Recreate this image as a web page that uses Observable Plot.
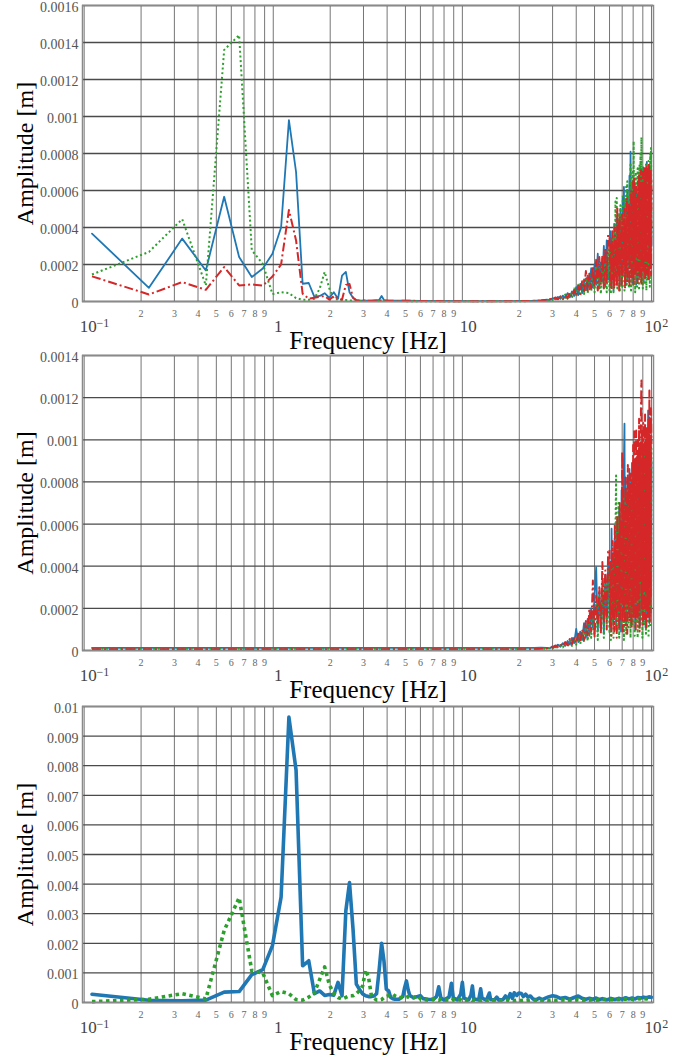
<!DOCTYPE html>
<html><head><meta charset="utf-8">
<script src="https://cdn.jsdelivr.net/npm/d3@7"></script>
<script src="https://cdn.jsdelivr.net/npm/@observablehq/plot@0.6"></script>
<style>
body{margin:0;background:#fff;}
#chart svg{display:block;overflow:visible;font-family:"Liberation Serif","Times New Roman",serif !important;}
#chart svg text{font-family:"Liberation Serif","Times New Roman",serif !important;}
</style></head><body><div id="chart"></div>
<script>
// ---------- axis ticks / labels ----------
const minorTicks = [0.2,0.3,0.4,0.5,0.6,0.7,0.8,0.9,2,3,4,5,6,7,8,9,20,30,40,50,60,70,80,90];
const minorLabels = ["2","3","4","5","6","7","8","9","2","3","4","5","6","7","8","9","2","3","4","5","6","7","8","9"];
const decadeTicks = [0.1,1,10,100];
const decadeBase = ["10","1","10","10"];
const decadeExp = ["\u22121","","","2"];
const yTicks1 = [0,0.0002,0.0004,0.0006,0.0008,0.001,0.0012,0.0014,0.0016];
const yTicks2 = [0,0.0002,0.0004,0.0006,0.0008,0.001,0.0012,0.0014];
const yTicks3 = [0,0.001,0.002,0.003,0.004,0.005,0.006,0.007,0.008,0.009,0.01];

// ---------- panel 1 (amplitudes in micrometres) ----------
const p1FreqLow = [0.11,0.22,0.33,0.44,0.55,0.66,0.77,0.88,0.99,1.1,1.21,1.32,1.43,1.54,1.65,1.76,1.87,1.98,2.09,2.2,2.31,2.42,2.53,2.64,2.75,2.86,2.97,3.3,3.63,3.74,3.85,4.07,4.5,5,6,7,8,10,12,15,18,20,22,24,26];
const p1BlueLow  = [367,74,340,168,566,240,132,178,258,400,980,700,96,100,25,30,45,20,50,15,140,160,50,20,8,5,5,5,8,30,8,5,4,5,3,3,3,2,2,2,2,3,3,4,6];
const p1RedLow   = [136,38,105,63,186,87,92,86,135,200,495,330,42,15,20,25,30,10,30,15,10,90,95,20,5,5,5,4,4,6,4,4,3,4,3,3,2,2,2,2,2,3,3,4,5];
const p1GreenLow = [146,268,445,87,1360,1440,277,204,40,50,45,18,10,10,15,70,160,70,15,10,8,8,5,5,5,3,4,3,3,3,3,3,3,2,2,2,2,2,2,1,1,2,2,3,5];

const hfFreqA = [28,29,30,31,32,33,34,35,36,37,38,39,40,41,42,43,44,45,46,47,48,49,50,51,52,53,54,55,56,57,58,59];
const hfFreqB = [60,60.5,61,61.5,62,62.5,63,63.5,64,64.5,
                 65,65.5,66,66.5,67,67.5,68,68.5,69,69.5,
                 70,70.5,71,71.5,72,72.5,73,73.5,74,74.5,
                 75,75.5,76,76.5,77,77.5,78,78.5,79,79.5,
                 80,80.5,81,81.5,82,82.5,83,83.5,84,84.5,
                 85,85.5,86,86.5,87,87.5,88,88.5,89,89.5,
                 90,90.5,91,91.5,92,92.5,93,93.5,94,94.5,
                 95,95.5,96,96.5,97,97.5,98,98.5,99,99.5,
                 100];

const p1BlueA  = [10,8,18,12,25,14,32,20,45,22,55,30,78,35,95,45,120,60,140,65,180,75,200,90,258,70,210,110,300,80,330,120];
const p1RedA   = [8,14,10,22,12,28,15,35,18,48,25,62,30,85,40,110,55,165,60,150,70,190,80,225,60,240,90,250,70,290,100,360];
const p1GreenA = [5,12,8,18,10,25,12,38,15,50,20,70,25,90,30,100,40,130,45,150,55,170,50,190,60,200,40,230,70,250,50,280];

const p1RedB = [350,90,310,60,380,120,300,70,400,140,
                330,80,510,150,420,60,460,180,380,90,
                470,130,440,200,500,70,420,160,560,110,
                480,220,530,80,520,190,600,120,560,250,
                650,90,670,200,580,140,620,260,560,100,
                650,230,690,130,600,280,710,90,640,250,
                700,160,620,300,720,120,680,240,740,150,
                700,320,730,110,744,260,690,180,720,140,
                660];
const p1BlueB = [120,380,90,340,150,300,60,420,140,330,
                 200,460,110,380,170,440,90,500,210,420,
                 130,560,240,620,150,480,90,540,260,600,
                 120,520,300,680,180,810,220,560,100,640,
                 330,520,150,600,260,540,90,620,340,580,
                 200,640,120,600,380,680,150,560,280,650,
                 200,725,110,600,340,560,180,700,260,755,
                 140,620,300,580,120,640,350,600,200,700,
                 300];
const p1GreenB = [60,300,40,280,120,350,50,400,90,540,
                  130,560,70,420,200,480,50,520,150,460,
                  80,580,220,500,60,560,180,620,90,650,
                  250,540,70,600,140,740,60,620,200,700,
                  90,866,170,640,50,700,230,600,80,720,
                  160,660,60,740,250,800,100,888,180,640,
                  70,720,220,600,90,680,160,740,60,620,
                  200,700,120,760,240,660,80,800,180,830,
                  350];

// ---------- panel 2 ----------
const p2FreqLow  = [0.11,24,26];
const p2BlueLow  = [12,12,14];
const p2RedLow   = [6,6,8];
const p2GreenLow = [8,8,9];
const p2BlueA  = [12,10,20,15,28,18,35,22,45,28,60,35,103,40,90,50,130,60,150,70,200,110,260,395,90,280,120,330,80,360,150,420];
const p2RedA   = [10,16,14,24,18,30,20,40,25,55,30,60,35,80,40,100,50,140,70,200,90,332,60,260,120,300,80,420,130,380,100,470];
const p2GreenA = [8,14,10,20,12,26,15,34,18,45,22,55,28,70,30,85,40,110,45,150,60,180,70,220,50,260,90,300,60,340,120,380];
const p2RedB = [480,110,420,70,520,150,460,90,600,180,
                520,60,640,200,560,100,700,140,620,230,
                941,90,760,180,680,120,820,250,720,80,
                880,200,780,140,840,300,760,110,900,220,
                975,160,1040,260,880,100,1044,300,920,150,
                1000,240,1100,90,960,330,1150,1281,200,1020,
                120,1080,280,960,150,1120,320,1000,100,1060,
                240,980,160,1100,300,1234,130,1050,260,1150,
                980];
const p2BlueB = [150,420,90,578,200,450,120,520,230,480,
                 100,600,260,560,140,680,300,640,90,760,
                 220,700,160,900,1076,240,820,130,760,300,
                 820,180,700,862,250,780,120,840,330,760,
                 180,900,260,820,100,880,340,760,200,940,
                 150,860,300,980,120,900,260,820,180,1000,
                 140,880,320,960,200,840,110,920,280,1000,
                 160,880,1139,240,860,130,940,300,820,180,
                 900];
const p2GreenB = [80,360,50,420,130,400,60,480,150,560,
                  830,90,620,180,700,60,600,200,680,100,
                  640,240,720,50,680,170,760,80,700,260,
                  780,100,720,200,800,60,760,280,820,120,
                  780,200,840,70,760,300,860,130,800,60,
                  880,240,820,100,900,280,840,150,920,60,
                  860,220,940,120,880,300,960,80,900,240,
                  980,130,920,60,1000,260,940,110,1020,200,
                  960];

// ---------- panel 3 ----------
const p3Freq = [0.11,0.22,0.33,0.44,0.55,0.66,0.77,0.88,0.99,1.1,
                1.21,1.32,1.43,1.54,1.65,1.76,1.87,1.98,2.09,2.2,
                2.31,2.42,2.53,2.64,2.75,2.86,2.97,3.08,3.19,3.3,
                3.41,3.52,3.63,3.74,3.85,3.96,4.07,4.18,4.29,4.4,
                4.62,4.84,4.95,5.06,5.17,5.28,5.5,5.8,6.0,6.2,
                6.6,7.0,7.3,7.5,7.7,8.0,8.5,8.75,8.95,9.4,
                9.8,10.0,10.2,10.8,11.1,11.3,11.5,12.2,12.5,12.7,
                13.4,13.9,14.1,14.8,15.2,15.6,16.4,16.9,17.4,17.9,
                18.4,18.8,19.4,19.9,20.5,21.0,21.6,22.2,22.9,23.6,
                24.5,25.5,26.5,27.5,28.5,30,31.5,33,35,37,
                39,41,43,45,47,49,51,53,55,58,
                61,64,67,70,73,76,79,82,85,88,
                91,94,97,100];
const p3Blue = [280,75,57,80,350,370,940,1110,1920,3560,
                9640,7850,1240,1410,300,390,240,270,250,680,
                230,3100,4050,2500,620,440,290,230,200,200,
                220,300,1100,2000,1400,450,400,170,130,110,
                110,200,500,730,420,230,170,200,230,130,
                110,100,200,530,150,90,180,650,160,90,
                280,680,150,90,250,560,120,90,460,150,
                80,320,100,90,180,80,100,220,110,300,
                140,330,240,320,300,200,280,180,220,120,
                90,150,100,150,190,230,200,140,170,110,
                170,220,140,110,140,110,150,100,130,90,
                140,100,140,110,160,120,150,120,170,150,
                180,160,190,180];
const p3Green = [30,110,300,120,2430,3540,1070,1000,230,370,
                 300,100,80,180,330,780,1200,600,300,170,
                 115,170,226,226,300,400,560,1100,850,250,
                 150,80,80,100,170,200,230,260,280,220,
                 170,170,150,170,200,180,150,230,120,100,
                 80,120,90,70,110,80,90,60,100,70,
                 90,60,80,70,90,60,80,70,60,80,
                 60,80,60,70,80,60,70,60,80,60,
                 70,60,80,60,70,80,60,70,80,60,
                 70,80,60,80,70,90,70,80,90,70,
                 80,90,70,90,80,100,80,90,110,90,
                 100,90,110,100,120,100,120,110,130,120,
                 130,120,140,130];

// ---------- helpers ----------
const BLUE = "#1f77b4", RED = "#d62728", GREEN = "#2ca02c";
const SERIF = "Liberation Serif";
function rows(freq, amp) {
  const n = Math.min(freq.length, amp.length);
  const out = [];
  for (let i = 0; i < n; i++) out.push({f: freq[i], a: amp[i] * 1e-6});
  return out;
}
const baseDx = [4, 5, 5.8, 1.5];
const expDx = [18.7, 0, 0, 13.8];

function panel({height, marginTop, marginBottom, yDomain, yTicks, series}) {
  const marks = [
    Plot.ruleX(minorTicks.concat(decadeTicks), {stroke: "#767676", strokeWidth: 1}),
    Plot.ruleY(yTicks, {stroke: "#4a4a4a", strokeWidth: 1.3}),
  ];
  for (const s of series) {
    marks.push(Plot.line(s.data, {x: "f", y: "a", stroke: s.color, strokeWidth: s.width,
      strokeDasharray: s.dash, strokeLinecap: s.dash ? "butt" : "round", strokeLinejoin: "round"}));
  }
  marks.push(Plot.frame({stroke: "#8a8a8a", strokeWidth: 1.5}));
  marks.push(Plot.text(yTicks, {y: d => d, text: d => String(d), frameAnchor: "left", textAnchor: "end",
    lineAnchor: "middle", dx: -4, dy: 2, fontSize: 14, fill: "#555", fontFamily: SERIF}));
  marks.push(Plot.text(minorTicks.map((t, i) => ({t, s: minorLabels[i]})), {x: "t", text: "s",
    frameAnchor: "bottom", textAnchor: "middle", lineAnchor: "middle", dy: 11.8, fontSize: 10, fill: "#666", fontFamily: SERIF}));
  decadeTicks.forEach((t, i) => {
    marks.push(Plot.text([t], {x: d => d, text: () => decadeBase[i], frameAnchor: "bottom",
      textAnchor: "middle", lineAnchor: "middle", dx: baseDx[i], dy: 25.3, fontSize: 17, fill: "#444", fontFamily: SERIF}));
    if (decadeExp[i]) marks.push(Plot.text([t], {x: d => d, text: () => decadeExp[i], frameAnchor: "bottom",
      textAnchor: "middle", lineAnchor: "middle", dx: expDx[i], dy: 21.2, fontSize: 12, fill: "#444", fontFamily: SERIF}));
  });
  marks.push(Plot.text(["Frequency [Hz]"], {text: d => d, frameAnchor: "bottom", textAnchor: "middle",
    lineAnchor: "middle", dy: 39.6, fontSize: 25, fill: "#000", fontFamily: SERIF}));
  marks.push(Plot.text(["Amplitude [m]"], {text: d => d, frameAnchor: "left", textAnchor: "middle",
    lineAnchor: "middle", rotate: -90, dx: -57, fontSize: 24, fill: "#000", fontFamily: SERIF}));
  return Plot.plot({
    width: 692, height, marginTop, marginBottom, marginLeft: 82, marginRight: 39,
    style: {fontFamily: SERIF, background: "#fff", overflow: "visible"},
    x: {type: "log", domain: [0.098, 102.5], axis: null},
    y: {domain: yDomain, axis: null},
    marks
  });
}

const chart = document.getElementById("chart");
chart.append(panel({
  height: 350, marginTop: 5, marginBottom: 49, yDomain: [0, 0.0016], yTicks: yTicks1,
  series: [
    {data: rows(p1FreqLow.concat(hfFreqA, hfFreqB), p1BlueLow.concat(p1BlueA, p1BlueB)), color: BLUE, width: 1.8},
    {data: rows(p1FreqLow.concat(hfFreqA, hfFreqB), p1GreenLow.concat(p1GreenA, p1GreenB)), color: GREEN, width: 2, dash: "2,2.7"},
    {data: rows(p1FreqLow.concat(hfFreqA, hfFreqB), p1RedLow.concat(p1RedA, p1RedB)), color: RED, width: 2, dash: "9,3,2,3"},
  ]
}));
chart.append(panel({
  height: 350, marginTop: 5, marginBottom: 50, yDomain: [0, 0.0014], yTicks: yTicks2,
  series: [
    {data: rows(p2FreqLow.concat(hfFreqA, hfFreqB), p2BlueLow.concat(p2BlueA, p2BlueB)), color: BLUE, width: 1.8},
    {data: rows(p2FreqLow.concat(hfFreqA, hfFreqB), p2GreenLow.concat(p2GreenA, p2GreenB)), color: GREEN, width: 2, dash: "2,2.7"},
    {data: rows(p2FreqLow.concat(hfFreqA, hfFreqB), p2RedLow.concat(p2RedA, p2RedB)), color: RED, width: 2, dash: "9,3,2,3"},
  ]
}));
chart.append(panel({
  height: 357, marginTop: 6, marginBottom: 55, yDomain: [0, 0.01], yTicks: yTicks3,
  series: [
    {data: rows(p3Freq, p3Blue), color: BLUE, width: 3.6},
    {data: rows(p3Freq, p3Green), color: GREEN, width: 3.6, dash: "3.5,3.5"},
  ]
}));
</script></body></html>
